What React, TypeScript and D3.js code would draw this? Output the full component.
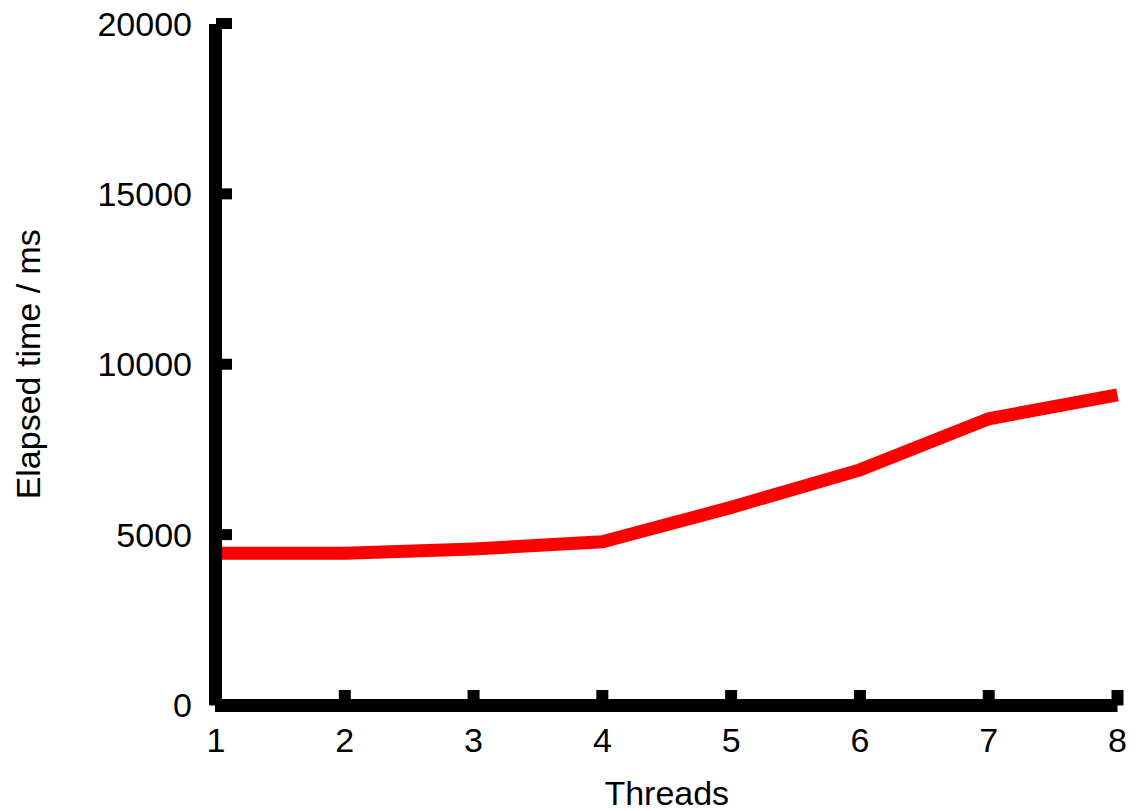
import React from 'react';
import * as d3 from 'd3';

const threads = [1, 2, 3, 4, 5, 6, 7, 8];
const elapsed = [4450, 4450, 4580, 4790, 5800, 6900, 8400, 9100];
const yTicks = [0, 5000, 10000, 15000, 20000];

const W = 1136;
const H = 811;

const App: React.FC = () => {
  const x = d3.scaleLinear().domain([1, 8]).range([216, 1117.5]);
  const y = d3.scaleLinear().domain([0, 20000]).range([705, 23.5]);

  const line = d3.line<number>()
    .x((_, i) => x(threads[i]))
    .y(d => y(d));

  const font = '"Liberation Sans", Arial, sans-serif';
  const axisW = 13;

  return (
    <svg width={W} height={H} style={{ position: 'absolute', left: 0, top: 0, background: '#fff' }}>
      <path d={line(elapsed) || ''} fill="none" stroke="#ff0000" strokeWidth={13} strokeLinejoin="miter" />

      {/* axes */}
      <line x1={x(1) - 0.5} x2={x(1) - 0.5} y1={y(20000) + 0.5} y2={y(0)} stroke="#000" strokeWidth={axisW} />
      <line x1={x(1) - 1} x2={x(8)} y1={y(0) + 0.5} y2={y(0) + 0.5} stroke="#000" strokeWidth={axisW} />

      {/* y ticks */}
      {yTicks.map(t => (
        <g key={t}>
          <line x1={x(1)} x2={x(1) + 16} y1={y(t)} y2={y(t)} stroke="#000" strokeWidth={11} />
          <text x={192} y={y(t)} dy="0.36em" textAnchor="end" fontFamily={font} fontSize={34} fill="#000">
            {t}
          </text>
        </g>
      ))}

      {/* x ticks */}
      {threads.map(t => (
        <g key={t}>
          <line x1={x(t)} x2={x(t)} y1={y(0) + 0.5} y2={y(0) - 15} stroke="#000" strokeWidth={12} />
          <text x={x(t)} y={752} textAnchor="middle" fontFamily={font} fontSize={34} fill="#000">
            {t}
          </text>
        </g>
      ))}

      <text x={(x(1) + x(8)) / 2} y={805} textAnchor="middle" fontFamily={font} fontSize={34} fill="#000">
        Threads
      </text>
      <text
        transform={`translate(40, ${(y(0) + y(20000)) / 2}) rotate(-90)`}
        textAnchor="middle"
        fontFamily={font}
        fontSize={34}
        fill="#000"
      >
        Elapsed time / ms
      </text>
    </svg>
  );
};

export default App;
